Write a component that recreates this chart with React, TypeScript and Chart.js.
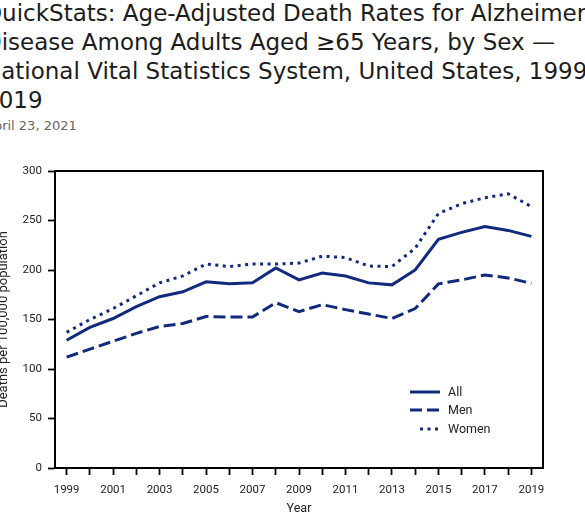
import { useEffect, useRef } from 'react'
import { Chart, registerables } from 'chart.js'

Chart.register(...registerables)

const years = [
  '1999', '2000', '2001', '2002', '2003', '2004', '2005', '2006', '2007', '2008', '2009',
  '2010', '2011', '2012', '2013', '2014', '2015', '2016', '2017', '2018', '2019',
]
const allRates = [129, 142, 151, 163, 173, 178, 188, 186, 187, 202, 190, 197, 194, 187, 185, 200, 231, 238, 244, 240, 234]
const menRates = [112, 120, 128, 136, 143, 146, 153, 152.5, 152.5, 167, 158, 165, 160, 155.5, 151, 161, 186, 190, 195, 192, 186.5]
const womenRates = [137, 150, 161, 174, 187, 194, 206, 203.5, 206, 206, 207, 214, 212.5, 204, 203.5, 222, 257, 267, 273, 277, 264]
const seriesNames = ['All', 'Men', 'Women']

const titleLines = [
  'QuickStats: Age-Adjusted Death Rates for Alzheimer’s',
  'Disease Among Adults Aged ≥65 Years, by Sex —',
  'National Vital Statistics System, United States, 1999–',
  '2019',
]
const dateLine = 'April 23, 2021'

const NAVY = '#122a7d'
const TICK_FONT = { family: 'Roboto', size: 11.5 }

// top and right edges of the box
const framePlugin = {
  id: 'frame',
  afterDraw(chart: any) {
    const { ctx, chartArea } = chart
    const { left, top, right, bottom } = chartArea
    ctx.save()
    ctx.strokeStyle = '#000'
    ctx.lineWidth = 2
    ctx.beginPath()
    ctx.moveTo(left - 1, top)
    ctx.lineTo(right, top)
    ctx.lineTo(right, bottom + 1)
    ctx.stroke()
    ctx.restore()
  },
}

// legend in the lower right of the plot
const boxLegendPlugin = {
  id: 'boxLegend',
  afterDraw(chart: any) {
    const { ctx, chartArea } = chart
    const x0 = chartArea.left + 355
    const x1 = chartArea.left + 385
    const rows = [221, 239, 258]
    ctx.save()
    chart.data.datasets.forEach((ds: any, i: number) => {
      const y = chartArea.top + rows[i]
      ctx.strokeStyle = ds.borderColor
      ctx.lineWidth = ds.borderWidth
      ctx.lineCap = 'butt'
      ctx.setLineDash(ds.borderDash || [])
      ctx.beginPath()
      ctx.moveTo(i === 2 ? x0 + 10 : x0, y)
      ctx.lineTo(x1, y)
      ctx.stroke()
      ctx.setLineDash([])
      ctx.fillStyle = '#222'
      ctx.font = '12.5px Roboto'
      ctx.textBaseline = 'middle'
      ctx.fillText(ds.label, x1 + 8, y + 0.5)
    })
    ctx.restore()
  },
}

const App = () => {
  const chartRef = useRef<HTMLCanvasElement>(null)
  const chartInstance = useRef<Chart | null>(null)

  useEffect(() => {
    document.body.style.margin = '0'
    if (!chartRef.current) return
    const ctx = chartRef.current.getContext('2d')
    if (!ctx) return

    if (chartInstance.current) {
      chartInstance.current.destroy()
    }

    chartInstance.current = new Chart(ctx, {
      type: 'line',
      data: {
        labels: years,
        datasets: [
          {
            label: seriesNames[0],
            data: allRates,
            borderColor: NAVY,
            borderWidth: 3,
            pointRadius: 0,
            tension: 0,
          },
          {
            label: seriesNames[1],
            data: menRates,
            borderColor: NAVY,
            borderWidth: 3,
            borderDash: [12, 5],
            pointRadius: 0,
            tension: 0,
          },
          {
            label: seriesNames[2],
            data: womenRates,
            borderColor: NAVY,
            borderWidth: 3,
            borderDash: [3, 4.5],
            pointRadius: 0,
            tension: 0,
          },
        ],
      },
      options: {
        animation: false,
        responsive: true,
        maintainAspectRatio: false,
        layout: {
          padding: { top: 21, right: 42, bottom: 0, left: 0 },
        },
        plugins: {
          legend: { display: false },
          tooltip: { enabled: false },
        },
        scales: {
          x: {
            type: 'category',
            offset: true,
            grid: {
              offset: false,
              drawOnChartArea: false,
              drawTicks: true,
              tickLength: 7,
              tickColor: '#000',
              tickWidth: 1.8,
            },
            border: { color: '#000', width: 2 },
            ticks: {
              autoSkip: false,
              maxRotation: 0,
              color: '#222',
              font: TICK_FONT,
              padding: 8,
              callback: (_v: any, i: number) => (i % 2 === 0 ? years[i] : ''),
            },
            title: {
              display: true,
              text: 'Year',
              color: '#222',
              font: { family: 'Roboto', size: 12.5 },
              padding: { top: 0, bottom: 1 },
            },
            afterFit: (scale: any) => {
              scale.height = 49
            },
          },
          y: {
            min: 0,
            max: 300,
            grid: {
              drawOnChartArea: false,
              drawTicks: true,
              tickLength: 7,
              tickColor: '#000',
              tickWidth: 1.8,
            },
            border: { color: '#000', width: 2 },
            ticks: {
              stepSize: 50,
              color: '#222',
              font: TICK_FONT,
              padding: 6,
            },
            title: {
              display: true,
              text: 'Deaths per 100,000 population',
              color: '#222',
              font: { family: 'Roboto', size: 13 },
              padding: 0,
            },
            afterFit: (scale: any) => {
              scale.width = 59
            },
          },
        },
      },
      plugins: [framePlugin, boxLegendPlugin],
    })

    return () => {
      if (chartInstance.current) {
        chartInstance.current.destroy()
        chartInstance.current = null
      }
    }
  }, [])

  return (
    <div style={{ position: 'relative', width: 585, height: 517, overflow: 'hidden', background: '#fff' }}>
      <div
        style={{
          position: 'absolute',
          left: -16,
          top: -1,
          fontFamily: '"DejaVu Sans", sans-serif',
          fontSize: 23,
          lineHeight: '29px',
          color: '#1c1c1c',
          whiteSpace: 'nowrap',
        }}
      >
        {titleLines.map((t) => (
          <div key={t}>{t}</div>
        ))}
        <div style={{ fontSize: 13, lineHeight: '20px', color: '#666', marginTop: 1, marginLeft: 1 }}>{dateLine}</div>
      </div>
      <div style={{ position: 'absolute', left: -4, top: 150, width: 589, height: 367 }}>
        <canvas ref={chartRef}></canvas>
      </div>
    </div>
  )
}

export default App
